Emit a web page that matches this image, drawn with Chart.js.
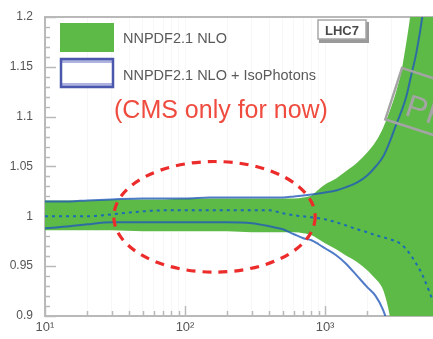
<!DOCTYPE html>
<html>
<head>
<meta charset="utf-8">
<script src="https://cdn.jsdelivr.net/npm/chart.js@4"></script>
<style>
  html, body { margin: 0; padding: 0; background: #fff; }
  #wrap { width: 433px; height: 339px; }
</style>
</head>
<body>
<div id="wrap"><canvas id="chart" width="433" height="339"></canvas></div>
<script>
const masses     = [10, 15, 20, 30, 50, 70, 100, 150, 200, 300, 400, 500, 600, 700, 800, 900, 1000, 1200, 1400, 1700, 2000, 2300, 2600, 2900, 3200, 3500, 3800, 4100, 4500, 5000, 5900];

// NNPDF2.1 NLO band (green)
const nnpdfUpper = [1.016, 1.016, 1.016, 1.017, 1.017, 1.017, 1.018, 1.018, 1.018, 1.018, 1.018, 1.018, 1.018, 1.019, 1.021, 1.027, 1.032, 1.038, 1.045, 1.054, 1.064, 1.075, 1.089, 1.106, 1.124, 1.145, 1.174, 1.205, 1.25, 1.31, 1.42];
const nnpdfLower = [0.986, 0.986, 0.986, 0.986, 0.985, 0.985, 0.985, 0.985, 0.985, 0.984, 0.984, 0.984, 0.984, 0.983, 0.981, 0.977, 0.973, 0.967, 0.961, 0.954, 0.946, 0.937, 0.926, 0.900, 0.86, 0.82, 0.78, 0.74, 0.69, 0.63, 0.52];

// NNPDF2.1 NLO + IsoPhotons band (blue outline)
const isoUpper   = [1.015, 1.015, 1.016, 1.017, 1.018, 1.018, 1.018, 1.019, 1.019, 1.019, 1.019, 1.019, 1.020, 1.021, 1.022, 1.023, 1.024, 1.026, 1.029, 1.034, 1.041, 1.050, 1.060, 1.075, 1.091, 1.105, 1.120, 1.140, 1.165, 1.205, 1.30];
const isoLower   = [0.988, 0.990, 0.992, 0.994, 0.994, 0.994, 0.994, 0.994, 0.994, 0.993, 0.990, 0.987, 0.982, 0.978, 0.976, 0.972, 0.968, 0.961, 0.953, 0.940, 0.929, 0.920, 0.906, 0.885, 0.86, 0.83, 0.80, 0.77, 0.73, 0.68, 0.58];

// central value (dotted)
const central    = [1.000, 1.000, 1.000, 1.002, 1.005, 1.006, 1.006, 1.006, 1.006, 1.006, 1.006, 1.003, 1.001, 1.000, 0.999, 0.998, 0.997, 0.994, 0.991, 0.987, 0.984, 0.981, 0.979, 0.977, 0.975, 0.972, 0.967, 0.961, 0.952, 0.940, 0.915];

// axes
const xMin = 10, xMax = 5900;
const yMin = 0.9, yMax = 1.2;
const xTicks = [10, 20, 30, 40, 50, 60, 70, 80, 90, 100, 200, 300, 400, 500, 600, 700, 800, 900, 1000, 2000, 3000, 4000, 5000];
const xTickLabels = { 10: "10¹", 100: "10²", 1000: "10³" };

const legendLabels = ["NNPDF2.1 NLO", "NNPDF2.1 NLO + IsoPhotons"];
const noteText = "(CMS only for now)";
const tagText = "LHC7";
const stampText = "PRELIMINARY";

// ellipse around the low mass region, in data units
const ellipseX = [31, 850];
const ellipseY = [0.944, 1.055];

const FONT = '"Liberation Sans", Arial, sans-serif';
const GREEN = "#5dba47";
const BLUE = "rgba(35, 90, 185, 0.8)";
const DOTS = "#1a6cb4";

function pts(arr) {
  return masses.map((m, i) => ({ x: m, y: arr[i] }));
}

const extras = {
  id: "extras",
  beforeDatasetsDraw(chart) {
    const { ctx, chartArea: a, scales: { x, y } } = chart;
    ctx.save();
    ctx.strokeStyle = "#b9b9b9";
    ctx.lineWidth = 2;
    ctx.beginPath();
    ctx.moveTo(a.left, a.top);
    ctx.lineTo(a.right, a.top);
    ctx.stroke();

    // ticks drawn inside the frame
    ctx.lineWidth = 1.5;
    for (let i = 0; i <= 30; i++) {
      const py = Math.round(y.getPixelForValue(yMin + i * 0.01)) + 0.5;
      const len = i % 5 === 0 ? 11 : 5;
      ctx.beginPath();
      ctx.moveTo(a.left, py);
      ctx.lineTo(a.left + len, py);
      ctx.stroke();
    }
    x.ticks.forEach(t => {
      const px = Math.round(x.getPixelForValue(t.value)) + 0.5;
      const len = xTickLabels[t.value] ? 10 : 5;
      ctx.beginPath();
      ctx.moveTo(px, a.bottom);
      ctx.lineTo(px, a.bottom - len);
      ctx.stroke();
    });
    ctx.restore();
  },
  afterDatasetsDraw(chart) {
    const { ctx, scales: { x, y } } = chart;
    ctx.save();

    // red dashed ellipse
    const x1 = x.getPixelForValue(ellipseX[0]), x2 = x.getPixelForValue(ellipseX[1]);
    const y1 = y.getPixelForValue(ellipseY[1]), y2 = y.getPixelForValue(ellipseY[0]);
    ctx.strokeStyle = "#ec2b2b";
    ctx.lineWidth = 3.2;
    ctx.setLineDash([9, 7]);
    ctx.beginPath();
    ctx.ellipse((x1 + x2) / 2, (y1 + y2) / 2, (x2 - x1) / 2, (y2 - y1) / 2, 0, 0, Math.PI * 2);
    ctx.stroke();
    ctx.setLineDash([]);

    // note
    ctx.fillStyle = "#ef4b3e";
    ctx.font = "25px " + FONT;
    ctx.textBaseline = "alphabetic";
    ctx.fillText(noteText, 114, 118);

    // legend
    ctx.fillStyle = GREEN;
    ctx.fillRect(60, 23, 54, 29);
    ctx.fillStyle = "#aeb2df";
    ctx.fillRect(60, 58, 54, 30);
    ctx.fillStyle = "#fff";
    ctx.fillRect(61, 63, 52, 20);
    ctx.strokeStyle = "#4a57ad";
    ctx.lineWidth = 2.5;
    ctx.strokeRect(61, 59, 52, 28);
    ctx.fillStyle = "#5a5a5a";
    ctx.font = "14.5px " + FONT;
    ctx.fillText(legendLabels[0], 123, 43);
    ctx.fillText(legendLabels[1], 123, 80);

    // LHC7 tag
    ctx.fillStyle = "#9a9a9a";
    ctx.fillRect(319, 22, 50, 21);
    ctx.fillStyle = "#fff";
    ctx.fillRect(318, 20, 48, 19);
    ctx.strokeStyle = "#a6a6a6";
    ctx.lineWidth = 1.5;
    ctx.strokeRect(318, 20, 48, 19);
    ctx.fillStyle = "#4a4a4a";
    ctx.font = "bold 13px " + FONT;
    ctx.textAlign = "center";
    ctx.fillText(tagText, 342, 35);
    ctx.textAlign = "left";

    // rotated stamp
    ctx.translate(402, 68);
    ctx.rotate(18 * Math.PI / 180);
    ctx.strokeStyle = "#a4a4a4";
    ctx.lineWidth = 2.5;
    ctx.strokeRect(0, 0, 230, 54);
    ctx.fillStyle = "#a4a4a4";
    ctx.font = "32px " + FONT;
    ctx.fillText(stampText, 16, 44);
    ctx.restore();
  }
};

new Chart(document.getElementById("chart"), {
  type: "line",
  data: {
    datasets: [
      { label: "central", data: pts(central), borderColor: DOTS, borderWidth: 2, borderDash: [3, 4], pointRadius: 0, fill: false, cubicInterpolationMode: "monotone" },
      { label: "iso up", data: pts(isoUpper), borderColor: BLUE, borderWidth: 2, pointRadius: 0, fill: false, cubicInterpolationMode: "monotone" },
      { label: "iso down", data: pts(isoLower), borderColor: BLUE, borderWidth: 2, pointRadius: 0, fill: false, cubicInterpolationMode: "monotone" },
      { label: legendLabels[0], data: pts(nnpdfUpper), borderWidth: 0, pointRadius: 0, backgroundColor: GREEN, fill: "+1", cubicInterpolationMode: "monotone" },
      { label: "nnpdf down", data: pts(nnpdfLower), borderWidth: 0, pointRadius: 0, fill: false, cubicInterpolationMode: "monotone" }
    ]
  },
  options: {
    responsive: false,
    animation: false,
    devicePixelRatio: 1,
    layout: { padding: { top: 17, left: 0, right: 0, bottom: 0 } },
    plugins: { legend: { display: false }, tooltip: { enabled: false } },
    scales: {
      x: {
        type: "logarithmic",
        min: xMin,
        max: xMax,
        afterBuildTicks: s => { s.ticks = xTicks.map(v => ({ value: v })); },
        afterFit: s => { s.height = 23; },
        grid: { color: "#f7f7f7", drawTicks: false },
        border: { color: "#b9b9b9", width: 2 },
        ticks: {
          autoSkip: false,
          maxRotation: 0,
          padding: 4,
          color: "#555",
          font: { family: FONT, size: 13 },
          callback: v => xTickLabels[v] || ""
        }
      },
      y: {
        min: yMin,
        max: yMax,
        afterFit: s => { s.width = 45; },
        grid: { display: false },
        border: { color: "#b9b9b9", width: 2 },
        ticks: {
          stepSize: 0.05,
          padding: 4,
          color: "#555",
          font: { family: FONT, size: 12 },
          callback: v => String(Number(v.toFixed(2)))
        }
      }
    }
  },
  plugins: [extras]
});
</script>
</body>
</html>
